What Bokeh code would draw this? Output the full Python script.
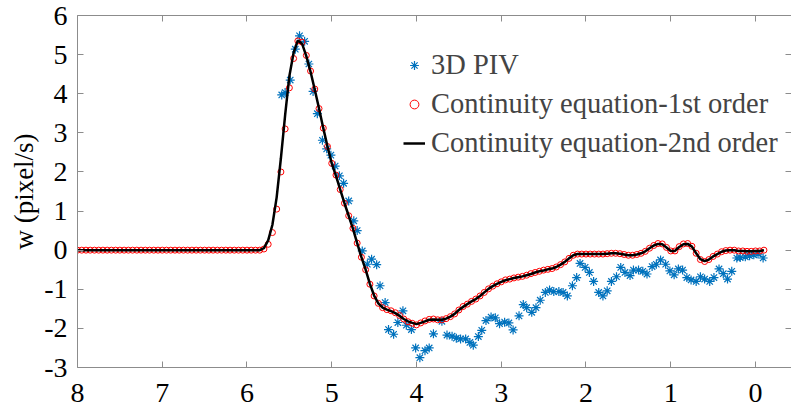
import numpy as np
from bokeh.plotting import figure
from bokeh.models import (Range1d, FixedTicker, LinearAxis, Legend, LegendItem,
                          ColumnDataSource)
from bokeh.embed import file_html
from bokeh.resources import INLINE

# ---------------- data ----------------
x_ticks = [0, 1, 2, 3, 4, 5, 6, 7, 8]
y_ticks = [-3, -2, -1, 0, 1, 2, 3, 4, 5, 6]
y_tick_labels = {-3: "-3", -2: "-2", -1: "-1", 0: "0", 1: "1", 2: "2",
                 3: "3", 4: "4", 5: "5", 6: "6"}
y_title = "w (pixel/s)"

# sample positions of the continuity-equation results (8.00 -> -0.10, step 0.05)
x_ce = np.linspace(8.0, -0.10, 163)

# Continuity equation - 1st order (red circles)
ce_1st = [
    0.00, 0.00, 0.00, 0.00, 0.00, 0.00, 0.00, 0.00, 0.00, 0.00,
    0.00, 0.00, 0.00, 0.00, 0.00, 0.00, 0.00, 0.00, 0.00, 0.00,
    0.00, 0.00, 0.00, 0.00, 0.00, 0.00, 0.00, 0.00, 0.00, 0.00,
    0.00, 0.00, 0.00, 0.00, 0.00, 0.00, 0.00, 0.00, 0.00, 0.00,
    0.00, 0.00, 0.00,
    0.00, 0.03, 0.15, 0.45, 1.05, 2.00, 3.10, 4.15, 4.90, 5.35,
    5.32, 4.98, 4.58, 4.12, 3.62, 3.12, 2.65, 2.22, 1.92, 1.55,
    1.20, 0.88, 0.56, 0.18, -0.18, -0.50, -0.87, -1.17, -1.36, -1.47,
    -1.52, -1.55, -1.60, -1.67, -1.76, -1.83, -1.87, -1.91, -1.86, -1.81,
    -1.77, -1.76, -1.78, -1.78, -1.75, -1.70, -1.63, -1.53, -1.44, -1.38,
    -1.31, -1.25, -1.17, -1.08, -0.99, -0.92, -0.86, -0.81, -0.76, -0.74,
    -0.71, -0.69, -0.67, -0.64, -0.60, -0.57, -0.54, -0.51, -0.49, -0.47,
    -0.43, -0.37, -0.30, -0.21, -0.13, -0.10, -0.10, -0.10, -0.10, -0.10,
    -0.10, -0.10, -0.09, -0.08, -0.08, -0.09, -0.11, -0.13, -0.13, -0.11,
    -0.08, -0.03, 0.05, 0.12, 0.17, 0.16, 0.07, -0.02, -0.02, 0.09,
    0.16, 0.17, 0.10, -0.08, -0.24, -0.29, -0.24, -0.16, -0.10, -0.04,
    -0.01, 0.00, 0.00, -0.02, -0.02, -0.03, -0.03, -0.02, -0.02, 0.00,
]

# Continuity equation - 2nd order (black line)
ce_2nd = [
    0.00, 0.00, 0.00, 0.00, 0.00, 0.00, 0.00, 0.00, 0.00, 0.00,
    0.00, 0.00, 0.00, 0.00, 0.00, 0.00, 0.00, 0.00, 0.00, 0.00,
    0.00, 0.00, 0.00, 0.00, 0.00, 0.00, 0.00, 0.00, 0.00, 0.00,
    0.00, 0.00, 0.00, 0.00, 0.00, 0.00, 0.00, 0.00, 0.00, 0.00,
    0.00, 0.00, 0.00,
    0.00, 0.05, 0.25, 0.65, 1.35, 2.35, 3.45, 4.45, 5.05, 5.36,
    5.28, 4.96, 4.56, 4.10, 3.62, 3.12, 2.65, 2.22, 1.90, 1.55,
    1.20, 0.88, 0.55, 0.18, -0.18, -0.50, -0.86, -1.16, -1.36, -1.47,
    -1.52, -1.56, -1.61, -1.68, -1.76, -1.82, -1.86, -1.89, -1.86, -1.82,
    -1.78, -1.77, -1.78, -1.78, -1.75, -1.70, -1.63, -1.53, -1.45, -1.38,
    -1.31, -1.25, -1.17, -1.08, -0.99, -0.92, -0.86, -0.81, -0.77, -0.74,
    -0.71, -0.69, -0.67, -0.64, -0.61, -0.57, -0.54, -0.52, -0.49, -0.47,
    -0.43, -0.37, -0.30, -0.21, -0.13, -0.10, -0.10, -0.10, -0.10, -0.10,
    -0.10, -0.10, -0.09, -0.08, -0.08, -0.09, -0.11, -0.13, -0.13, -0.11,
    -0.08, -0.03, 0.05, 0.12, 0.16, 0.15, 0.07, -0.02, -0.02, 0.08,
    0.15, 0.16, 0.09, -0.08, -0.23, -0.28, -0.24, -0.16, -0.10, -0.04,
    -0.01, 0.00, 0.00, -0.02, -0.02, -0.03, -0.03, -0.02, -0.02, 0.00,
]

# 3D PIV (blue asterisks)
piv_x = [
    5.59, 5.55, 5.49, 5.43, 5.38, 5.32, 5.27, 5.22, 5.17, 5.11,
    5.06, 5.01, 4.96, 4.91, 4.86, 4.80, 4.74, 4.70, 4.64, 4.58,
    4.53, 4.47, 4.43, 4.37, 4.33, 4.27, 4.22, 4.16, 4.12, 4.06,
    4.01, 3.96, 3.90, 3.85, 3.80, 3.70, 3.64, 3.58, 3.53, 3.48,
    3.42, 3.37, 3.33, 3.27, 3.23, 3.18, 3.12, 3.07, 3.02, 2.96,
    2.91, 2.86, 2.79, 2.74, 2.70, 2.64, 2.59, 2.54, 2.48, 2.43,
    2.38, 2.32, 2.27, 2.22, 2.16, 2.11, 2.07, 2.01, 1.96, 1.91,
    1.85, 1.80, 1.75, 1.70, 1.64, 1.59, 1.54, 1.48, 1.44, 1.38,
    1.33, 1.28, 1.22, 1.17, 1.12, 1.06, 1.01, 0.96, 0.91, 0.86,
    0.81, 0.76, 0.70, 0.65, 0.60, 0.54, 0.49, 0.43, 0.38, 0.33,
    0.28, 0.22, 0.18, 0.12, 0.07, 0.02, -0.03, -0.09,
]
piv_w = [
    3.97, 4.03, 4.35, 5.14, 5.48, 5.34, 4.76, 4.06, 3.49, 2.81,
    2.59, 2.43, 2.15, 1.90, 1.71, 1.26, 0.75, 0.50, -0.02, -0.36,
    -0.23, -0.37, -0.91, -1.34, -2.03, -2.15, -1.85, -1.55, -1.92, -2.03,
    -2.50, -2.75, -2.57, -2.50, -2.14, -1.82, -2.17, -2.20, -2.25, -2.27,
    -2.27, -2.36, -2.43, -2.21, -2.05, -1.80, -1.71, -1.73, -1.88, -1.84,
    -1.86, -2.04, -1.68, -1.39, -1.47, -1.59, -1.47, -1.28, -1.08, -1.02,
    -1.06, -1.06, -1.08, -1.17, -0.91, -0.70, -0.34, -0.44, -0.57, -0.80,
    -1.08, -1.17, -1.04, -0.80, -0.68, -0.44, -0.57, -0.65, -0.51, -0.51,
    -0.54, -0.61, -0.42, -0.36, -0.25, -0.36, -0.53, -0.63, -0.48, -0.51,
    -0.70, -0.76, -0.80, -0.68, -0.74, -0.80, -0.70, -0.48, -0.60, -0.74,
    -0.54, -0.20, -0.19, -0.17, -0.14, -0.12, -0.10, -0.20,
]

# ---------------- styling ----------------
FONT = "Liberation Serif"
GRAY = "#8c8c8c"

p = figure(width=791, height=409, output_backend="svg", toolbar_location=None,
           x_range=Range1d(8, -0.425), y_range=Range1d(-3, 6),
           min_border_left=77, min_border_right=0, min_border_top=15,
           min_border_bottom=42)
p.background_fill_color = "white"
p.border_fill_color = "white"
p.outline_line_color = None
p.xgrid.visible = False
p.ygrid.visible = False


def style_axis(ax, ticker, line=True):
    ax.ticker = ticker
    ax.major_tick_in = 6
    ax.major_tick_out = 0
    ax.minor_tick_in = 6
    ax.minor_tick_out = 0
    ax.major_tick_line_color = GRAY
    ax.minor_tick_line_color = GRAY
    ax.major_tick_line_width = 1
    ax.minor_tick_line_width = 1
    ax.axis_line_color = GRAY if line else None
    ax.axis_line_width = 1
    ax.major_label_text_font = FONT
    ax.major_label_text_font_size = "28px"
    ax.major_label_text_color = "black"


style_axis(p.xaxis[0], FixedTicker(ticks=x_ticks, minor_ticks=[]))
p.xaxis[0].major_label_standoff = 16

yax = p.yaxis[0]
style_axis(yax, FixedTicker(ticks=y_ticks, minor_ticks=[]))
yax.major_label_standoff = 10
yax.major_label_overrides = y_tick_labels
yax.axis_label = y_title
yax.axis_label_text_font = FONT
yax.axis_label_text_font_style = "normal"
yax.axis_label_text_font_size = "27px"
yax.axis_label_text_color = "black"
yax.axis_label_standoff = 2

# box ticks on top and right (no labels there)
top_ax = LinearAxis()
style_axis(top_ax, FixedTicker(ticks=[], minor_ticks=x_ticks))
p.add_layout(top_ax, "above")
right_ax = LinearAxis()
style_axis(right_ax, FixedTicker(ticks=[], minor_ticks=y_ticks), line=False)
p.add_layout(right_ax, "right")

src_piv = ColumnDataSource(dict(x=piv_x, w=piv_w))
src_ce = ColumnDataSource(dict(x=x_ce, w1=ce_1st, w2=ce_2nd))

r_piv = p.scatter("x", "w", source=src_piv, marker="asterisk", size=9,
                  line_color="#0072BD", line_width=1.2)
r_c1 = p.scatter("x", "w1", source=src_ce, marker="circle", size=6,
                 fill_color=None, line_color="#ff0000", line_width=1)
r_c2 = p.line("x", "w2", source=src_ce, line_color="black", line_width=2.5)

legend = Legend(items=[
    LegendItem(label="3D PIV", renderers=[r_piv]),
    LegendItem(label="Continuity equation-1st order", renderers=[r_c1]),
    LegendItem(label="Continuity equation-2nd order", renderers=[r_c2]),
], location=(326, 208), border_line_color=None, background_fill_alpha=0,
   label_text_font=FONT, label_text_font_size="28.5px", glyph_width=22,
   glyph_height=30, label_height=30, label_standoff=6, spacing=7,
   padding=0, margin=0)
p.add_layout(legend)

open("out.html", "w").write(file_html(p, INLINE))
